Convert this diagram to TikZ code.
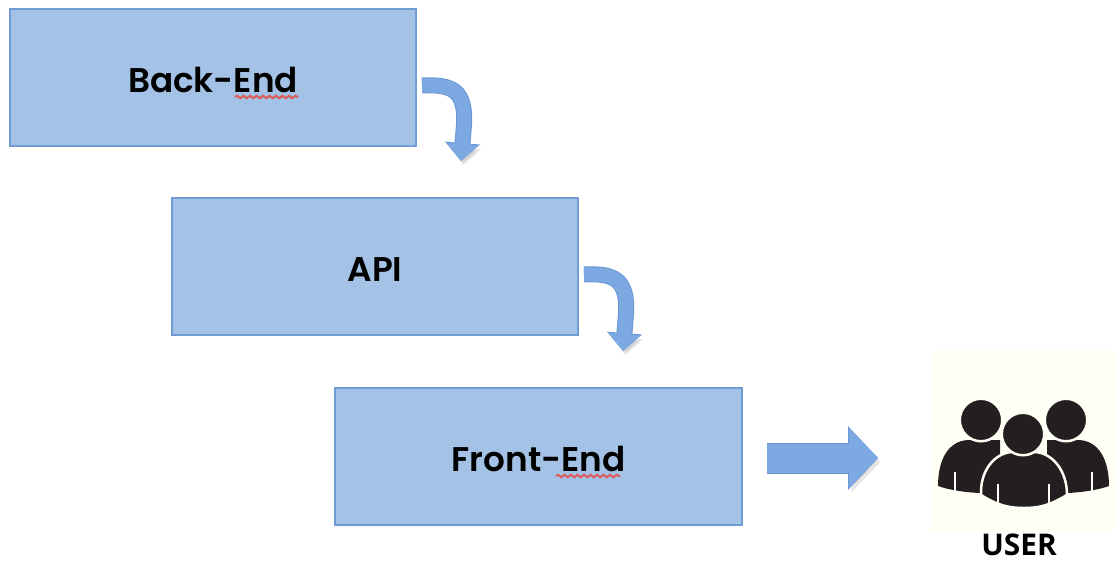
\documentclass[tikz,border=0pt]{standalone}
\usepackage{fontspec}
\setmainfont{Poppins}[BoldFont={Poppins SemiBold}]
\newfontfamily\userfont{Open Sans}
\usepackage{tikz}
\usetikzlibrary{arrows.meta,positioning,decorations.pathmorphing}

\definecolor{boxfill}{HTML}{A4C2E6}
\definecolor{boxline}{HTML}{6F9DD3}
\definecolor{arrowfill}{HTML}{7CA9E2}
\definecolor{arrowline}{HTML}{6A97D2}
\definecolor{iconback}{HTML}{FFFFF6}
\definecolor{iconfill}{HTML}{231F20}
\definecolor{squiggle}{HTML}{DD5A55}

\tikzset{
    layer/.style={draw=boxline, fill=boxfill, line width=0.04cm, outer sep=0pt,
        minimum width=8.12cm, minimum height=2.74cm,
        text height=0.62cm, text depth=0pt,
        font=\fontsize{19.5}{24}\selectfont\bfseries},
    bentarrow/.style={draw=arrowfill, line width=0.28cm,
        -{Triangle[length=0.34cm,width=0.62cm]},
        preaction={draw=black, opacity=0.1, transform canvas={shift={(0.05cm,-0.08cm)}}},
        preaction={draw=arrowline, line width=0.32cm,
            -{Triangle[length=0.36cm,width=0.68cm]}}},
    bigarrow/.style={draw=arrowfill, line width=0.58cm,
        -{Triangle[length=0.58cm,width=1.18cm]},
        preaction={draw=black, opacity=0.1, transform canvas={shift={(0.05cm,-0.08cm)}}},
        preaction={draw=arrowline, line width=0.62cm,
            -{Triangle[length=0.6cm,width=1.24cm]}}},
    spell/.style={draw=squiggle, line width=0.04cm,
        decorate, decoration={snake, amplitude=0.025cm, segment length=0.13cm}},
    head/.style={circle, fill=iconfill, draw=iconback, line width=0.05cm,
        minimum size=0.85cm, inner sep=0pt},
}

\begin{document}
\begin{tikzpicture}[x=0.02cm,y=-0.02cm]
    \useasboundingbox (0,0) rectangle (1115,561);

    \node[layer] (backend) at (213,77.5) {Back-End};
    \node[layer] (api) [below right=1.04cm and -4.88cm of backend] {API};
    \node[layer, minimum width=8.14cm] (frontend) [below right=1.06cm and -4.86cm of api] {Front-End};

    % red underlines
    \coordinate (sq1) at (235,97);
    \coordinate (sq2) at (298,97);
    \coordinate (sq3) at (556,476);
    \coordinate (sq4) at (620,476);
    \draw[spell] (sq1) -- (sq2);
    \draw[spell] (sq3) -- (sq4);

    % arrows
    \coordinate (be1) at (422,85.5);
    \coordinate (be2) at (464,125);
    \coordinate (be3) at (461,161);
    \coordinate (ap1) at (584,274.5);
    \coordinate (ap2) at (626,314);
    \coordinate (ap3) at (623,351);
    \coordinate (fe1) at (767,458);
    \coordinate (fe2) at (878,458);
    \draw[bentarrow] (be1) .. controls (452,84) and (466,90) .. (be2) -- (be3);
    \draw[bentarrow] (ap1) .. controls (614,273) and (628,279) .. (ap2) -- (ap3);
    \draw[bigarrow] (fe1) -- (fe2);

    % user icon
    \fill[iconback] (930,350) rectangle (1115,532);
    \fill[iconfill] (938,486) .. controls (938,460) and (948,441) .. (968,440)
        -- (1000,440) -- (1000,493) .. controls (980,494) and (955,492) .. (938,486) -- cycle;
    \fill[iconfill] (1109,486) .. controls (1109,460) and (1099,441) .. (1079,440)
        -- (1047,440) -- (1047,493) .. controls (1067,494) and (1092,492) .. (1109,486) -- cycle;
    \draw[iconback, line width=0.04cm] (955,472) -- (955,493);
    \draw[iconback, line width=0.04cm] (1092,472) -- (1092,493);
    \node[head] (lefthead) at (981,420) {};
    \node[head] (righthead) at (1066,420) {};
    \draw[iconback, fill=iconfill, line width=0.05cm] (981,495) .. controls (980,470) and (995,453) .. (1012,452)
        -- (1035,452) .. controls (1052,453) and (1067,470) .. (1067,495)
        .. controls (1050,505) and (1040,508) .. (1024,508)
        .. controls (1008,508) and (997,505) .. (981,495) -- cycle;
    \draw[iconback, line width=0.04cm] (998,484) -- (998,506);
    \draw[iconback, line width=0.04cm] (1049,484) -- (1049,506);
    \node[head] (midhead) at (1023,434) {};
    \node[font=\userfont\fontsize{17}{20}\selectfont\bfseries, inner sep=0pt] (user) at (1019,545) {USER};

\end{tikzpicture}
\end{document}
